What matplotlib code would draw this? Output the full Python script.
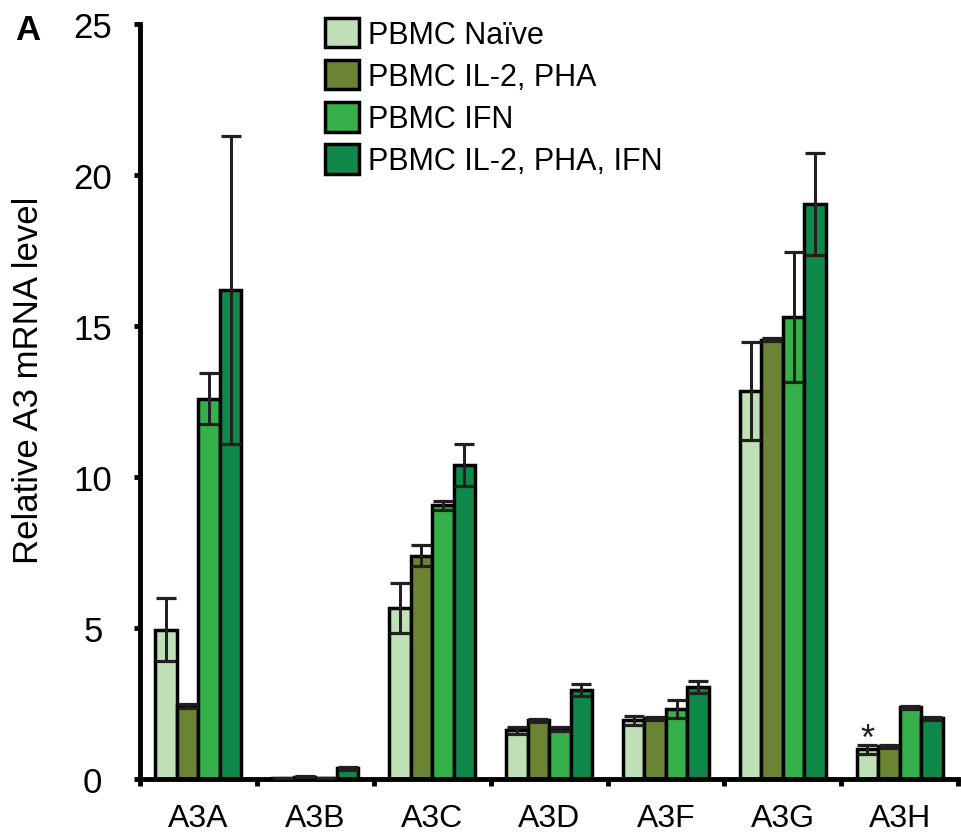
"""
Relative APOBEC3 mRNA levels in PBMC under different stimulations.

Writes:   out.png
"""

import matplotlib.pyplot as plt
import numpy as np
from matplotlib.patches import Patch

plt.rcParams["font.family"] = ["Liberation Sans", "DejaVu Sans"]

genes = ["A3A", "A3B", "A3C", "A3D", "A3F", "A3G", "A3H"]
conditions = ["PBMC Naïve", "PBMC IL-2, PHA", "PBMC IFN", "PBMC IL-2, PHA, IFN"]
colors = ["#bfdfb6", "#6a8434", "#36b04a", "#0f884a"]

naive = [4.95, 0.03, 5.66, 1.62, 1.95, 12.85, 0.99]
naive_err = [1.05, 0.02, 0.83, 0.12, 0.15, 1.63, 0.15]
il2_pha = [2.42, 0.08, 7.40, 1.95, 2.02, 14.55, 1.09]
il2_pha_err = [0.05, 0.02, 0.35, 0.05, 0.05, 0.05, 0.05]
ifn = [12.60, 0.03, 9.07, 1.66, 2.32, 15.30, 2.38]
ifn_err = [0.85, 0.01, 0.15, 0.08, 0.30, 2.15, 0.05]
combo = [16.20, 0.36, 10.40, 2.95, 3.05, 19.04, 2.02]
combo_err = [5.10, 0.05, 0.70, 0.20, 0.20, 1.70, 0.05]

values = [naive, il2_pha, ifn, combo]
errors = [naive_err, il2_pha_err, ifn_err, combo_err]

EDGE = 2.5
ERR_COLOR = "#231f20"

fig = plt.figure(figsize=(9.61, 8.37), dpi=100)
ax = fig.add_axes([0.1457, 0.068, 0.8513, 0.902])

x = np.arange(len(genes))
width = 0.184
for i, (vals, errs) in enumerate(zip(values, errors)):
    pos = x + (i - 1.5) * width
    vals = np.asarray(vals)
    errs = np.asarray(errs)
    ax.bar(pos, vals, width, color=colors[i], edgecolor="black",
           linewidth=EDGE, zorder=2)
    ax.errorbar(pos, vals, yerr=errs, fmt="none", ecolor=ERR_COLOR,
                elinewidth=2, capsize=7, capthick=2.3, zorder=4)
    # whiskers drawn again so they sit over the bar fill
    ax.vlines(pos, vals - errs, vals + errs, colors=ERR_COLOR,
              linewidth=2, zorder=5)

# significance marker on A3H naive
h = genes.index("A3H")
ax.text(h - 1.5 * width, naive[h] + naive_err[h] - 0.15, "*",
        ha="center", va="baseline", fontsize=26, color=ERR_COLOR)

ax.set_xlim(-0.5, len(genes) - 0.5)
ax.set_ylim(0, 25)
ax.set_yticks([0, 5, 10, 15, 20, 25])
ax.set_xticks(np.arange(-0.5, len(genes), 1.0))
ax.set_xticklabels([])
ax.set_xticks(x, minor=True)
ax.set_xticklabels(genes, minor=True, fontsize=23)
ax.tick_params(axis="x", which="major", direction="out", length=5, width=3.5)
ax.tick_params(axis="x", which="minor", length=0, pad=17)
ax.tick_params(axis="y", direction="out", length=4, width=3.5,
               labelsize=25, pad=30)
for lab in ax.get_yticklabels():
    lab.set_horizontalalignment("center")

for side in ["top", "right"]:
    ax.spines[side].set_visible(False)
ax.spines["left"].set_linewidth(3.5)
ax.spines["bottom"].set_linewidth(3.5)

fig.text(29 / 961, 1 - 380 / 837, "Relative A3 mRNA level", fontsize=25,
         rotation=90, ha="center", va="center")

handles = [Patch(facecolor=c, edgecolor="black", linewidth=EDGE) for c in colors]
ax.legend(handles, conditions, loc="upper left",
          bbox_to_anchor=(325 / 961, 1 - 19 / 837),
          bbox_transform=fig.transFigure, frameon=False, fontsize=22,
          handlelength=1.1, handleheight=1.1, handletextpad=0.3,
          labelspacing=0.33, borderaxespad=0, borderpad=0)

fig.text(0.016, 0.9636, "A", fontsize=25, fontweight="bold", va="center")

fig.savefig("out.png", dpi=100)
